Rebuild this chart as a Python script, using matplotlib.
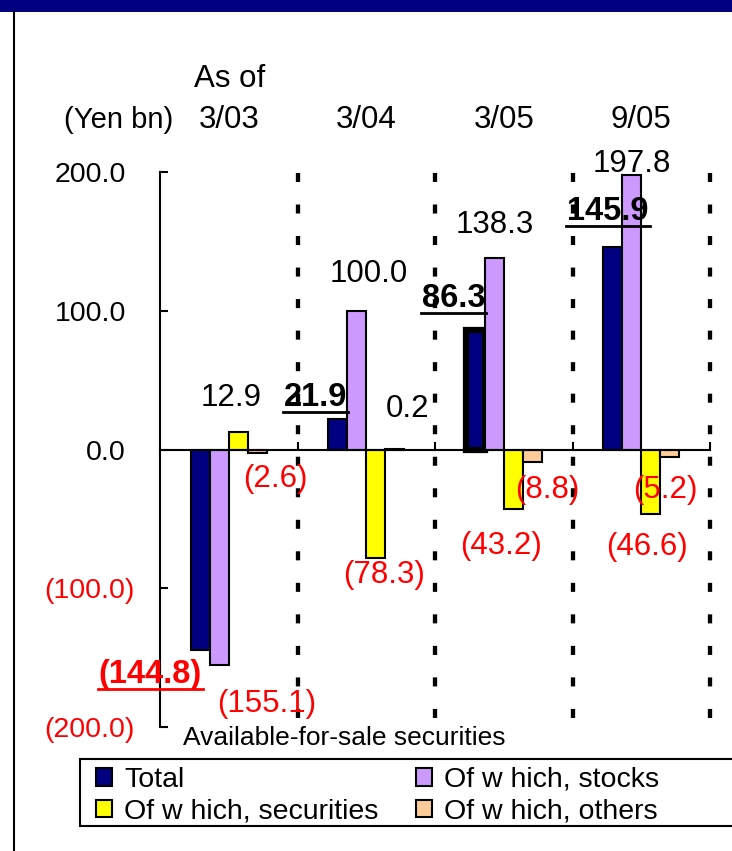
import matplotlib
matplotlib.use("Agg")
import matplotlib.pyplot as plt
from matplotlib.lines import Line2D
from matplotlib.patches import Rectangle
from matplotlib.transforms import IdentityTransform
import numpy as np

plt.rcParams['font.family'] = ['Liberation Sans', 'DejaVu Sans']
plt.rcParams['lines.scale_dashes'] = False

# ---- data (Yen bn) ----
dates = ["3/03", "3/04", "3/05", "9/05"]
total = [-144.8, 21.9, 86.3, 145.9]
stocks = [-155.1, 100.0, 138.3, 197.8]
securities = [12.9, -78.3, -43.2, -46.6]
others = [-2.6, 0.2, -8.8, -5.2]
series_names = ["Total", "Of w hich, stocks", "Of w hich, securities", "Of w hich, others"]
y_ticks = [-200.0, -100.0, 0.0, 100.0, 200.0]

# ---- styling ----
NAVY = "#000080"
RED = "#FF0000"
colors = [NAVY, "#CC99FF", "#FFFF00", "#FFCC99"]
FS_TICK = 20.5
FS_LABEL = 22.5
FS_BOLD = 23.5
FS_HEAD = 22.5
W, H = 732, 851

# label offsets in pixels relative to the end of each bar (x, baseline)
label_offsets = [
    [(-50, -32.5), (-22, 12.7), (-22, 22.5), (-5, 27)],
    [(47, -47), (11.5, 28.5), (0, 24.5), (0, 3)],
    [(-7, 26), (8, -24.6), (-12, -45), (-4, -40.5)],
    [(18, -33.4), (13, 32.7), (15, -35.8), (-4, -40.8)],
]


def fmt(v):
    return f"({abs(v):.1f})" if v < 0 else f"{v:.1f}"


def fx(px):
    return px / W


def fy(py):
    return 1 - py / H


fig = plt.figure(figsize=(W / 100, H / 100), dpi=100)
fig.patch.set_facecolor("white")

# page decoration: navy band and left frame line
fig.add_artist(Rectangle((0, fy(12)), 1, 12 / H, transform=fig.transFigure,
                         facecolor=NAVY, edgecolor="none"))
fig.add_artist(Line2D([fx(14), fx(14)], [0, fy(12)], transform=fig.transFigure,
                      color="black", lw=1.5))

ax = fig.add_axes([fx(160), fy(727), 550 / W, 555 / H])
ax.set_xlim(-0.5, 3.5)
ax.set_ylim(-200, 200)

x = np.arange(len(dates))
bw = 0.138
all_series = [total, stocks, securities, others]
containers = []
for s, vals in enumerate(all_series):
    bc = ax.bar(x + (s - 1.5) * bw, vals, bw, color=colors[s],
                edgecolor="black", linewidth=1.5, zorder=2)
    containers.append(bc)
# highlighted outline on the 3/05 total bar
containers[0].patches[2].set_linewidth(4.5)

# spines and ticks
for side in ("top", "right"):
    ax.spines[side].set_visible(False)
ax.spines["bottom"].set_position(("data", 0))
ax.spines["bottom"].set_linewidth(1.5)
ax.spines["left"].set_linewidth(1.5)

ax.set_xticks(x + 0.5)
ax.set_xticklabels([])
ax.tick_params(axis="x", direction="in", length=6, width=1.5)
ax.tick_params(axis="y", direction="in", length=6, width=1.5, labelsize=FS_TICK)
ax.set_yticks(y_ticks, labels=[fmt(v) for v in y_ticks])
for tick, v in zip(ax.yaxis.get_major_ticks(), y_ticks):
    tick.label1.set_color(RED if v < 0 else "black")
    tick.set_pad(18 if v < 0 else 24.5)

# dashed separators between dates
ax.grid(axis="x", which="major", color="black", linewidth=3.1,
        linestyle=(16.2, (6.5, 16.2)))
ax.grid(axis="y", visible=False)
for gl in ax.get_xgridlines():
    gl.set_clip_on(False)

# value labels
anns = []
for s, vals in enumerate(all_series):
    for g, v in enumerate(vals):
        xpos = x[g] + (s - 1.5) * bw
        dx, dy = label_offsets[s][g]
        a = ax.annotate(fmt(v), xy=(xpos, v), xytext=(dx, dy),
                        textcoords="offset pixels", ha="center", va="baseline",
                        fontsize=FS_BOLD if s == 0 else FS_LABEL,
                        color=RED if v < 0 else "black",
                        fontweight="bold" if s == 0 else "normal",
                        annotation_clip=False, zorder=4)
        if s == 0:
            anns.append((a, xpos, v, dy))

# headers
fig.text(fx(230), fy(87), "As of", ha="center", va="baseline", fontsize=FS_HEAD)
fig.text(fx(119), fy(128), "(Yen bn)", ha="center", va="baseline", fontsize=21)
for g, d in enumerate(dates):
    xp = ax.transData.transform((x[g], 0))[0] / W
    fig.text(xp, fy(128), d, ha="center", va="baseline", fontsize=FS_HEAD)

fig.text(fx(344.5), fy(745), "Available-for-sale securities", ha="center",
         va="baseline", fontsize=19)

# legend with a wide frame
fig.add_artist(Rectangle((fx(80), fy(826)), (745 - 80) / W, (826 - 759) / H,
                         transform=fig.transFigure, facecolor="white",
                         edgecolor="black", linewidth=1.5, zorder=0))
leg_handles = [containers[0], containers[2], containers[1], containers[3]]
leg_labels = [series_names[0], series_names[2], series_names[1], series_names[3]]
leg = fig.legend(leg_handles, leg_labels, ncol=2, loc="upper left",
                 bbox_to_anchor=(fx(96), fy(767)), frameon=False,
                 fontsize=20.5, handlelength=0.55, handleheight=0.55,
                 handletextpad=0.45, columnspacing=1.3, labelspacing=0.2,
                 borderpad=0, borderaxespad=0)

# underline the total labels
fig.canvas.draw()
renderer = fig.canvas.get_renderer()
for a, xpos, v, dy in anns:
    bb = a.get_window_extent(renderer)
    yb = ax.transData.transform((xpos, v))[1] + dy - 6
    fig.add_artist(Line2D([bb.x0 - 1, bb.x1 + 1], [yb, yb],
                          transform=IdentityTransform(),
                          color=a.get_color(), lw=2))

fig.savefig("out.png", dpi=100)
